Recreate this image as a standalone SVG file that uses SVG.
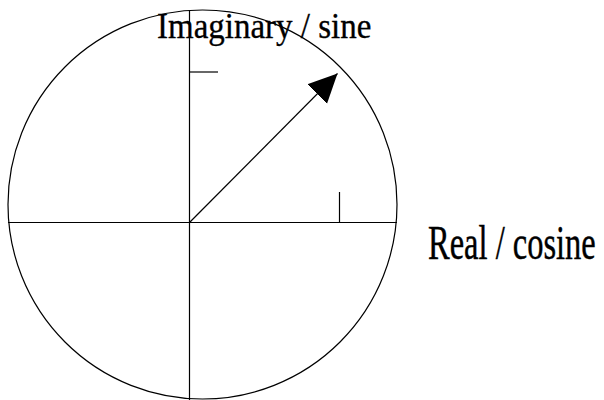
<svg xmlns="http://www.w3.org/2000/svg" width="604" height="400" viewBox="0 0 604 400">
<style>
.ln{stroke:#000;stroke-width:1.2;fill:none}
.lbl{font-family:"Liberation Serif","Times New Roman",serif;fill:#000;stroke:#000;stroke-width:0.3}
</style>
<defs>
<marker id="ah" markerUnits="userSpaceOnUse" markerWidth="30" markerHeight="30" refX="25" refY="12" orient="auto" viewBox="0 0 26 24">
<path d="M0,0 L25,12 L0,24 Z" fill="#000"/>
</marker>
</defs>
<rect width="604" height="400" fill="#fff"/>
<g id="circle"><circle class="ln" cx="202.5" cy="204.5" r="194.5"/></g>
<g id="connectors">
<line class="ln" x1="189.5" y1="10" x2="189.5" y2="400"/>
<line class="ln" x1="8" y1="222.5" x2="397" y2="222.5"/>
<line class="ln" x1="189.5" y1="72" x2="218" y2="72"/>
<line class="ln" x1="339.5" y1="192" x2="339.5" y2="222.5"/>
<line class="ln" x1="189.5" y1="222.5" x2="337.5" y2="73.5" marker-end="url(#ah)"/>
</g>
<g id="label-imag"><text class="lbl" transform="translate(157,38) scale(1,1.1)" font-size="33">Imaginary / sine</text></g>
<g id="label-real"><text class="lbl" transform="translate(428,259) scale(1,1.5)" font-size="32.5">Real / cosine</text></g>
</svg>
